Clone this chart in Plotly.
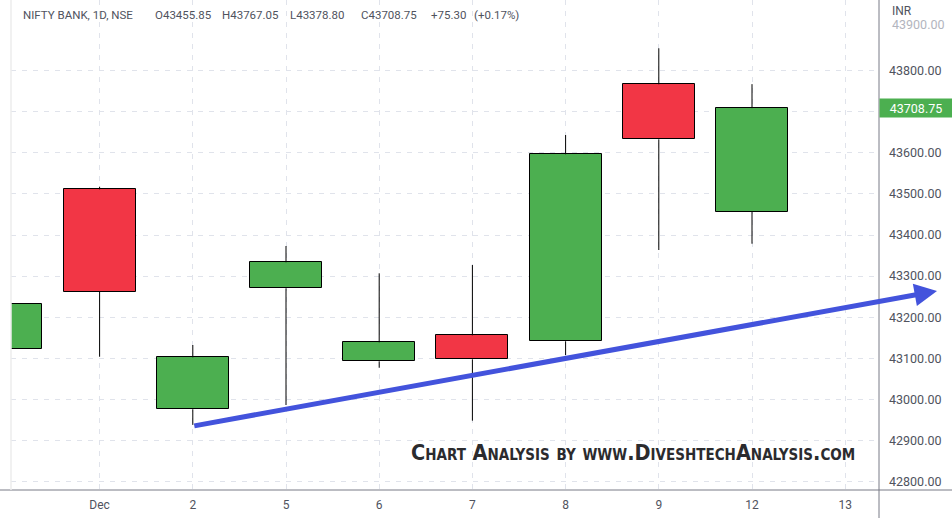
import plotly.graph_objects as go

# ---- data ----
tick_labels = ["30", "Dec", "2", "5", "6", "7", "8", "9", "12", "13"]
candle_idx = [0, 1, 2, 3, 4, 5, 6, 7, 8]
opens = [43121.9, 43511.2, 42975.9, 43270.3, 43092.7, 43156.0, 43141.4, 43766.7, 43455.85]
highs = [43250.0, 43517.5, 43132.4, 43373.2, 43306.8, 43327.0, 43643.3, 43854.3, 43767.05]
lows = [43060.0, 43103.9, 42938.0, 42986.4, 43077.1, 42948.2, 43108.0, 43363.5, 43378.80]
closes = [43231.4, 43261.5, 43102.4, 43333.6, 43138.9, 43097.6, 43596.4, 43632.8, 43708.75]
price_ticks = [42800, 42900, 43000, 43100, 43200, 43300, 43400, 43500, 43600, 43700, 43800]
header = ["NIFTY BANK, 1D, NSE", "O43455.85", "H43767.05", "L43378.80", "C43708.75", "+75.30", "(+0.17%)"]
last_price = 43708.75
trend_start = (2, 42935.0)
trend_end = (9.985, 43264.0)

GREEN = "#4caf50"
RED = "#f23645"
TXT = "#50535e"
GRID = "#e0e3eb"

W, H = 952, 518
ML, MR, MT, MB = 11, 73, 0, 28
PW, PH = W - ML - MR, H - MT - MB


def px(xp):
    return (xp - ML) / PW


def py(yp):
    return (H - MB - yp) / PH


fig = go.Figure()

# wicks (upper and lower parts, outside the bodies)
wx, wy = [], []
for i, o, h, l, c in zip(candle_idx, opens, highs, lows, closes):
    top, bot = max(o, c), min(o, c)
    wx += [i, i, None, i, i, None]
    wy += [top, h, None, l, bot, None]
fig.add_trace(go.Scatter(x=wx, y=wy, mode="lines", line=dict(color="black", width=1),
                         hoverinfo="skip", showlegend=False))

# bodies
bases = [min(o, c) for o, c in zip(opens, closes)]
heights = [abs(c - o) for o, c in zip(opens, closes)]
colors = [GREEN if c >= o else RED for o, c in zip(opens, closes)]
fig.add_trace(go.Bar(x=candle_idx, y=heights, base=bases, width=0.773,
                     marker=dict(color=colors, line=dict(color="black", width=1)),
                     showlegend=False))

fig.update_layout(
    width=W, height=H,
    margin=dict(l=ML, r=MR, t=MT, b=MB),
    paper_bgcolor="white", plot_bgcolor="white",
    font=dict(family="Roboto, sans-serif", size=12, color=TXT),
    bargap=0,
    xaxis=dict(range=[0.0494, 9.3627], tickmode="array",
               tickvals=list(range(len(tick_labels))), ticktext=tick_labels,
               showgrid=True, gridcolor=GRID, griddash="5px,6px", gridwidth=1,
               zeroline=False, showline=False, ticks="", ticklabelstandoff=6,
               tickfont=dict(size=12, color=TXT)),
    yaxis=dict(range=[42779.6, 43971.8], side="right", tickmode="array",
               tickvals=price_ticks,
               ticktext=["" if v == 43700 else f"{v:.2f}" for v in price_ticks],
               showgrid=True, gridcolor=GRID, griddash="5px,6px", gridwidth=1,
               zeroline=False, showline=False, ticks="", ticklabelstandoff=9,
               tickfont=dict(size=12.5, color=TXT)),
)

# axis frame lines
fig.add_shape(type="line", xref="paper", yref="paper", x0=1, x1=1, y0=py(H), y1=1,
              line=dict(color="#787b86", width=1))
fig.add_shape(type="line", xref="paper", yref="paper", x0=px(0), x1=px(W), y0=0, y1=0,
              line=dict(color="#787b86", width=1))
fig.add_shape(type="line", xref="paper", yref="paper", x0=0, x1=0, y0=0, y1=1,
              line=dict(color="#ececec", width=1.5))

# top (faded) price label and currency
fig.add_annotation(xref="paper", yref="paper", x=px(890), y=py(24), xanchor="left",
                   yanchor="middle", text="43900.00", showarrow=False,
                   font=dict(size=12.5, color="#b2b5be"))
fig.add_annotation(xref="paper", yref="paper", x=px(890), y=py(11), xanchor="left",
                   yanchor="middle", text="INR", showarrow=False,
                   font=dict(size=12, color=TXT))

# last price label
fig.add_annotation(xref="paper", yref="y", x=1, y=last_price, xanchor="left",
                   yanchor="middle", text=f"{last_price:.2f}", showarrow=False,
                   bgcolor=GREEN, width=70, height=16, borderpad=1,
                   font=dict(size=12.5, color="white"))

# header legend
hx = [20.7, 152.7, 220, 288.3, 359.3, 429.3, 471.7]
for t, xp in zip(header, hx):
    fig.add_annotation(xref="paper", yref="paper", x=px(xp), y=py(15), xanchor="left",
                       yanchor="middle", text=t, showarrow=False,
                       font=dict(size=11.5, color=TXT))

# trend arrow
fig.add_annotation(x=trend_end[0], y=trend_end[1], xref="x", yref="y",
                   ax=trend_start[0], ay=trend_start[1], axref="x", ayref="y",
                   showarrow=True, arrowhead=2, arrowsize=0.9, arrowwidth=5,
                   arrowcolor="#4353dc", text="")

# watermark
fig.add_annotation(xref="paper", yref="paper", x=px(632.5), y=py(452), xanchor="center",
                   yanchor="middle", text="Chart Analysis by www.DiveshtechAnalysis.com",
                   showarrow=False,
                   font=dict(family="DejaVu Sans Condensed, Liberation Sans Narrow, Roboto, sans-serif",
                             size=21.5, color="#2b2b2e", weight="bold", variant="small-caps"))

fig.write_html("out.html", config={"displayModeBar": False},
               post_script="document.body.style.margin='0px';")
